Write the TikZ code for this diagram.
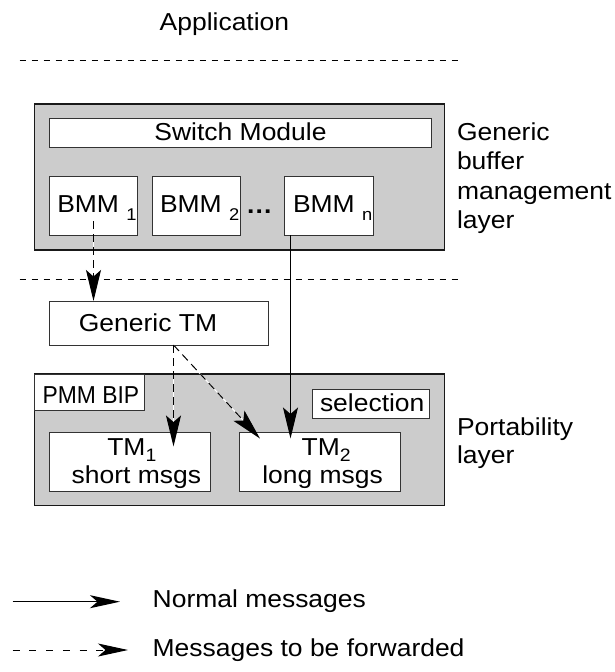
\documentclass[tikz,border=0pt]{standalone}
\usepackage{fontspec}
\usepackage{graphicx}
\setmainfont{Liberation Sans}[FakeStretch=1.08]
\usetikzlibrary{arrows.meta,fit}
\newcommand\lowsub[3]{\raisebox{-#1}{\fontsize{#2}{#2}\selectfont #3}}
\newcommand\fitwidth[2]{\resizebox{#1}{\height}{#2}}
\begin{document}
\begin{tikzpicture}[x=1pt,y=-1pt,
  every node/.style={inner sep=0pt,outer sep=0pt},
  txt/.style={anchor=base west,font=\fontsize{24.5}{29}\selectfont},
  layerbox/.style={draw=black!90,line width=1.5pt,fill=black!20},
  wbox/.style={draw=black!80,line width=1pt,fill=white},
  sep/.style={line width=0.9pt,dash pattern=on 6.5pt off 5.5pt},
  tipA/.style={-{Stealth[length=31pt,width=15pt,inset=6.5pt]}},
  tipL/.style={-{Stealth[length=30pt,width=13pt,inset=7.5pt]}},
  msg/.style={line width=1pt,tipA},
  fwd/.style={line width=1pt,tipA,dash pattern=on 8pt off 5pt},
  under/.style={draw=white,line width=1pt},
]
\fill[white] (0,0) rectangle (615,672);
\useasboundingbox (0,0) rectangle (615,672);

% top label and separators
\node[txt] (app) at (159.7,30) {Application};
\coordinate (s1a) at (19.7,60);  \coordinate (s1b) at (461,60);
\coordinate (s2a) at (19.7,279); \coordinate (s2b) at (461,279);
\draw[sep] (s1a) -- (s1b);
\draw[sep] (s2a) -- (s2b);

% generic buffer management layer
\node[layerbox,fit={(34.7,104) (444.5,250)}] (gbl) {};
\node[wbox,fit={(49.3,118.3) (431.8,147.3)}] (sw) {};
\node[txt,anchor=base] (swt) at (240.5,140) {Switch Module};
\node[wbox,fit={(49.3,176.7) (137.6,235.3)}] (bmm1) {};
\node[wbox,fit={(152,176.7) (240.5,235.3)}] (bmm2) {};
\node[wbox,fit={(284.7,176.7) (373,235.3)}] (bmmn) {};
\node[txt] (bmm1t) at (57.3,212.7) {BMM \lowsub{8pt}{17}{1}};
\node[txt] (bmm2t) at (160,212.7) {BMM \lowsub{8pt}{17}{2}};
\node[txt] (bmmnt) at (293,212.7) {BMM \lowsub{8pt}{17}{n}};
\node[txt] (dots) at (247,213) {\textbf{.\kern1.2pt.\kern1.2pt.}};

\node[txt] (r1) at (457,140) {Generic};
\node[txt] (r2) at (457,169.5) {buffer};
\node[txt] (r3) at (457,199) {management};
\node[txt] (r4) at (457,228.5) {layer};

% generic TM
\node[wbox,fit={(49.3,301) (268.7,345)}] (gtm) {};
\node[txt] (gtmt) at (78.9,331.7) {Generic TM};

% portability layer
\node[layerbox,fit={(34.5,374) (444.5,505.7)}] (pl) {};
\node[wbox,fit={(34.5,374) (144.3,410.7)}] (pmm) {};
\node[txt] (pmmt) at (42.7,403) {\fitwidth{96.5pt}{PMM BIP}};
\node[wbox,fit={(312.7,389.3) (429.3,418.3)}] (sel) {};
\node[txt] (selt) at (320,411) {selection};
\node[wbox,fit={(49.3,432.7) (210,491)}] (tm1) {};
\node[wbox,fit={(239.3,432.7) (400,491)}] (tm2) {};
\node[txt] (tm1a) at (107.3,455) {TM\lowsub{6pt}{18}{1}};
\node[txt] (tm1b) at (71.7,483) {short msgs};
\node[txt] (tm2a) at (301.7,455) {TM\lowsub{6pt}{18}{2}};
\node[txt] (tm2b) at (262.3,483) {long msgs};
\node[txt] (p1) at (457,435) {Portability};
\node[txt] (p2) at (457,463.5) {layer};

% connectors
\coordinate (c1s) at (93.5,221);  \coordinate (c1e) at (93.5,301);
\coordinate (c2s) at (290.5,235.3); \coordinate (c2e) at (290.5,438.5);
\coordinate (g0) at (173.5,345);
\coordinate (t1) at (173.5,446.5);
\coordinate (t2) at (260,438.5);
\draw[under] (c1s) -- (c1e);
\draw[fwd] (c1s) -- (c1e);
\draw[msg] (c2s) -- (c2e);
\draw[under] (g0) -- (t1);
\draw[under] (g0) -- (t2);
\draw[fwd] (g0) -- (t1);
\draw[fwd] (g0) -- (t2);

% legend
\coordinate (l1a) at (12.7,601.7); \coordinate (l1b) at (120,601.7);
\coordinate (l2a) at (12.7,650);   \coordinate (l2b) at (128,650);
\draw[line width=1.3pt,tipL] (l1a) -- (l1b);
\draw[line width=1pt,tipL,dash pattern=on 7pt off 9.7pt] (l2a) -- (l2b);
\node[txt] (lt1) at (152.7,607.5) {Normal messages};
\node[txt] (lt2) at (152.7,656.5) {Messages to be forwarded};
\end{tikzpicture}
\end{document}
